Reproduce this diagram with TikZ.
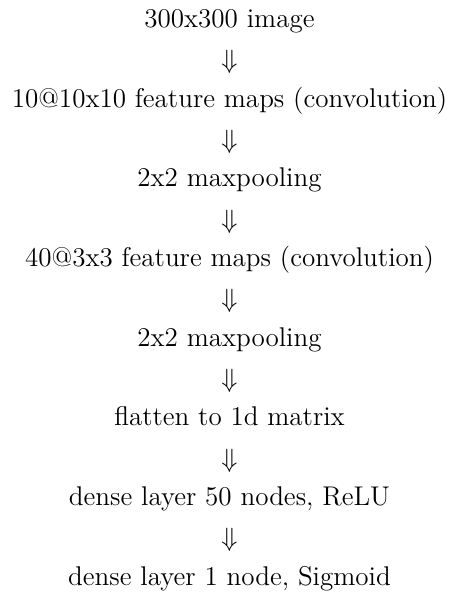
\documentclass[tikz,border=0pt]{standalone}
\begin{document}
\begin{tikzpicture}[x=0.4545pt,y=-0.4545pt,
  stage/.style={anchor=base,inner sep=0pt,font=\fontsize{12.3}{15}\selectfont},
  flow/.style={anchor=base,inner sep=0pt,font=\fontsize{12.3}{15}\selectfont}]
\useasboundingbox (0,0) rectangle (452,596);
\def\cx{229.5}
\node[stage] (s1) at (\cx,27.3) {300x300 image};
\node[stage] (s2) at (\cx,107.0) {10@10x10 feature maps (convolution)};
\node[stage] (s3) at (\cx,186.7) {2x2 maxpooling};
\node[stage] (s4) at (\cx,266.4) {40@3x3 feature maps (convolution)};
\node[stage] (s5) at (\cx,346.1) {2x2 maxpooling};
\node[stage] (s6) at (\cx,425.8) {flatten to 1d matrix};
\node[stage] (s7) at (\cx,505.5) {dense layer 50 nodes, ReLU};
\node[stage] (s8) at (\cx,585.2) {dense layer 1 node, Sigmoid};
\foreach \a/\b in {s1/s2,s2/s3,s3/s4,s4/s5,s5/s6,s6/s7,s7/s8}
  \path (\a.base) -- (\b.base) node[flow,pos=0.5,yshift=-0.7pt] {$\Downarrow$};
\end{tikzpicture}
\end{document}
